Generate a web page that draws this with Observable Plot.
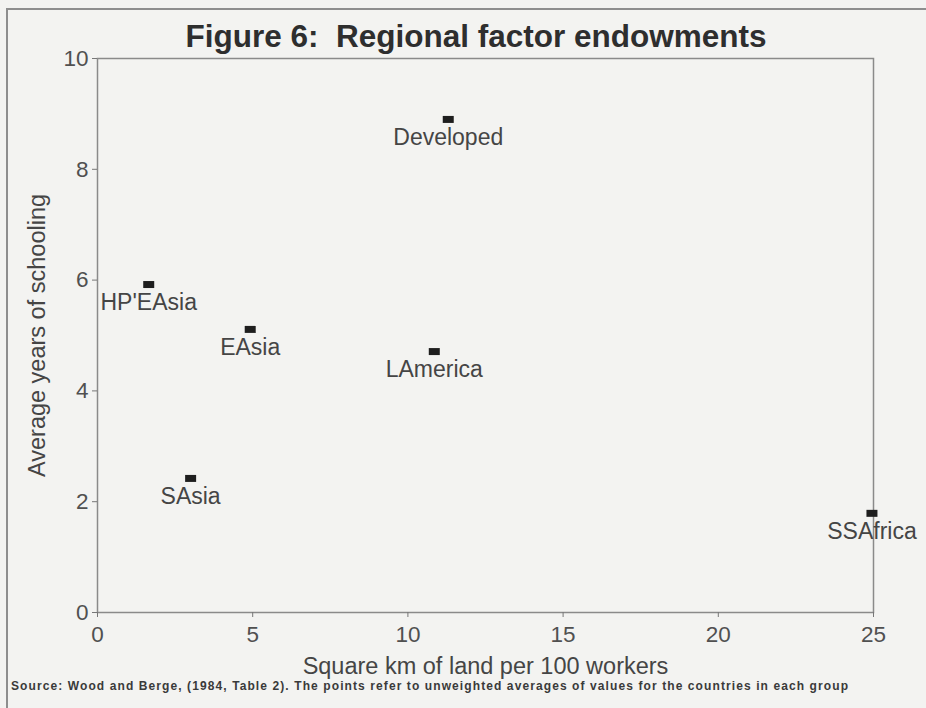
<!DOCTYPE html>
<html>
<head>
<meta charset="utf-8">
<script src="https://cdn.jsdelivr.net/npm/d3@7"></script>
<script src="https://cdn.jsdelivr.net/npm/@observablehq/plot@0.6"></script>
<style>
  html, body { margin: 0; padding: 0; background: #f3f3f1; }
  #wrap { position: relative; width: 926px; height: 708px; background: #f3f3f1; overflow: hidden;
          font-family: "Liberation Sans", Arial, Helvetica, sans-serif; }
  #border { position: absolute; left: 6px; top: 8px; right: -4px; bottom: -4px;
            border-left: 2px solid #8e8e8e; border-top: 2px solid #8e8e8e; }
  #title { position: absolute; left: 476px; top: 21px; transform: translateX(-50%); white-space: nowrap;
           font-weight: bold; font-size: 31.5px; line-height: 31px; color: #2e2e2e; }
  #chart { position: absolute; left: 0; top: 0; }
  #source { position: absolute; left: 10px; top: 677px; }
</style>
</head>
<body>
<div id="wrap">
  <div id="border"></div>
  <div id="chart"></div>
  <div id="title">Figure 6:&nbsp; Regional factor endowments</div>
  <svg id="source" width="900" height="20">
    <text x="1" y="13" textLength="837" lengthAdjust="spacing" font-family="Liberation Sans, Arial, sans-serif"
          font-weight="bold" font-size="12" fill="#3a3a3a">Source: Wood and Berge, (1984, Table 2). The points refer to unweighted averages of values for the countries in each group</text>
  </svg>
</div>
<script>
const regions = ["Developed", "HP'EAsia", "EAsia", "LAmerica", "SAsia", "SSAfrica"];
const landPer100Workers = [11.3, 1.65, 4.92, 10.85, 3.0, 24.95];
const yearsOfSchooling = [8.9, 5.92, 5.11, 4.71, 2.42, 1.79];
const xTicks = [0, 5, 10, 15, 20, 25];
const yTicks = [0, 2, 4, 6, 8, 10];
const xLabel = "Square km of land per 100 workers";
const yLabel = "Average years of schooling";

const data = regions.map((region, i) => ({region, land: landPer100Workers[i], school: yearsOfSchooling[i]}));

const rectSymbol = {
  draw(context, size) {
    const r = Math.sqrt(size / Math.PI);
    const w = 2.2 * r, h = 1.4 * r;
    context.moveTo(-w / 2, -h / 2);
    context.lineTo(w / 2, -h / 2);
    context.lineTo(w / 2, h / 2);
    context.lineTo(-w / 2, h / 2);
    context.closePath();
  }
};

const chart = Plot.plot({
  width: 926,
  height: 708,
  marginLeft: 97,
  marginRight: 53,
  marginTop: 58,
  marginBottom: 96,
  style: {background: "transparent", fontFamily: "Liberation Sans, Arial, sans-serif", overflow: "visible"},
  x: {domain: [0, 25]},
  y: {domain: [0, 10]},
  marks: [
    Plot.frame({stroke: "#8a8a8a", strokeWidth: 1.5}),
    Plot.axisX({ticks: xTicks, tickSize: 5, tickPadding: 9, fontSize: 22.5, fill: "#505050", stroke: "#777", label: null}),
    Plot.axisY({ticks: yTicks, tickSize: 5, tickPadding: 4, fontSize: 22.5, fill: "#505050", stroke: "#777", label: null}),
    Plot.dot(data, {x: "land", y: "school", symbol: rectSymbol, r: 5, fill: "#1e1e1e", stroke: null}),
    Plot.text(data, {x: "land", y: "school", text: "region", dy: 18, fontSize: 23, fill: "#454545"}),
    Plot.text([xLabel], {text: d => d, frameAnchor: "bottom", textAnchor: "middle", lineAnchor: "middle", dy: 54, fontSize: 23.5, fill: "#454545"}),
    Plot.text([yLabel], {text: d => d, frameAnchor: "left", textAnchor: "middle", lineAnchor: "middle", rotate: -90, dx: -60, fontSize: 23.5, fill: "#454545"})
  ]
});
document.getElementById("chart").appendChild(chart);
</script>
</body>
</html>
